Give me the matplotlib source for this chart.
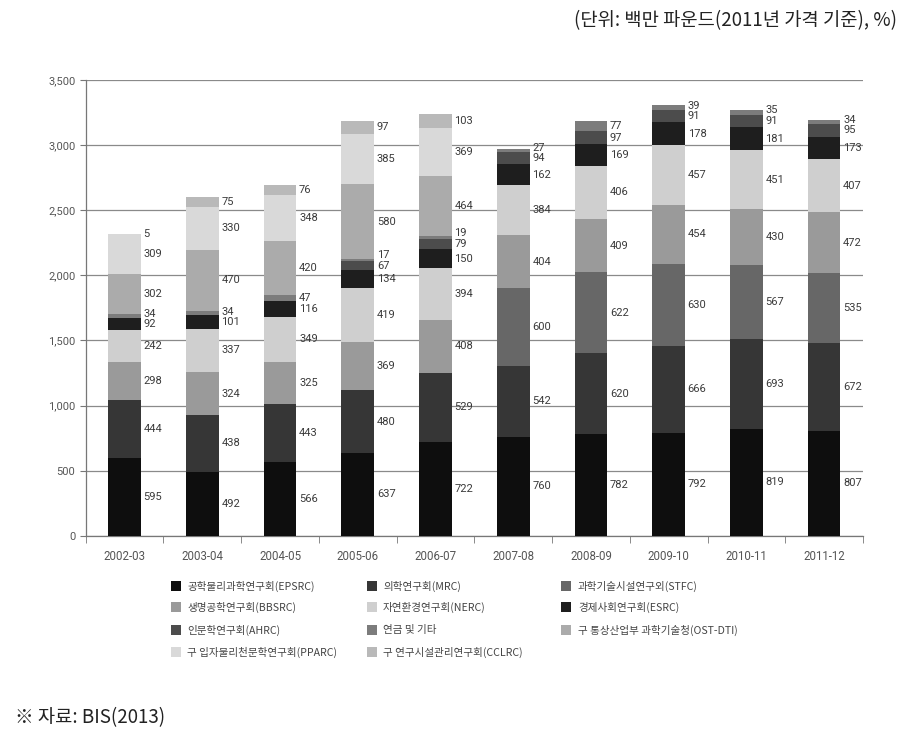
import matplotlib
matplotlib.use('Agg')
import matplotlib.pyplot as plt
from matplotlib.patches import Rectangle
import numpy as np

years = ['2002-03', '2003-04', '2004-05', '2005-06', '2006-07',
         '2007-08', '2008-09', '2009-10', '2010-11', '2011-12']
epsrc = [595, 492, 566, 637, 722, 760, 782, 792, 819, 807]
mrc = [444, 438, 443, 480, 529, 542, 620, 666, 693, 672]
stfc = [0, 0, 0, 0, 0, 600, 622, 630, 567, 535]
bbsrc = [298, 324, 325, 369, 408, 404, 409, 454, 430, 472]
nerc = [242, 337, 349, 419, 394, 384, 406, 457, 451, 407]
esrc = [92, 101, 116, 134, 150, 162, 169, 178, 181, 173]
ahrc = [0, 0, 0, 67, 79, 94, 97, 91, 91, 95]
pension = [34, 34, 47, 17, 19, 27, 77, 39, 35, 34]
ost_dti = [302, 470, 420, 580, 464, 0, 0, 0, 0, 0]
pparc = [309, 330, 348, 385, 369, 0, 0, 0, 0, 0]
cclrc = [5, 75, 76, 97, 103, 0, 0, 0, 0, 0]

series_names = ['공학물리과학연구회(EPSRC)', '의학연구회(MRC)', '과학기술시설연구외(STFC)',
                '생명공학연구회(BBSRC)', '자연환경연구회(NERC)', '경제사회연구회(ESRC)',
                '인문학연구회(AHRC)', '연금 및 기타', '구 통상산업부 과학기술청(OST-DTI)',
                '구 입자물리천문학연구회(PPARC)', '구 연구시설관리연구회(CCLRC)']
series = [epsrc, mrc, stfc, bbsrc, nerc, esrc, ahrc, pension, ost_dti, pparc, cclrc]
colors = ['#0e0e0e', '#363636', '#676767', '#9a9a9a', '#cfcfcf', '#1e1e1e',
          '#4c4c4c', '#7c7c7c', '#ababab', '#d9d9d9', '#b9b9b9']

W, H = 908, 740
fig = plt.figure(figsize=(W / 100, H / 100), dpi=100)
ax = fig.add_axes([85.7 / W, 1 - 535.7 / H, (863 - 85.7) / W, (535.7 - 80) / H])

x = np.arange(len(years))
bw = 0.42
bottom = np.zeros(len(years))
label_info = [[] for _ in years]
for vals, c in zip(series, colors):
    v = np.array(vals, dtype=float)
    ax.bar(x, v, bw, bottom=bottom, color=c, zorder=3, linewidth=0)
    for i in range(len(years)):
        if v[i] > 0:
            label_info[i].append((bottom[i] + v[i] / 2, int(v[i])))
    bottom += v

gap = 80
for i, items in enumerate(label_info):
    prev = -1e9
    for yc, val in items:
        yp = max(yc, prev + gap)
        prev = yp
        ax.text(i + bw / 2 + 0.035, yp, str(val), ha='left', va='center',
                fontsize=8, color='#3a3a3a', family='Roboto', zorder=4)

ax.set_xlim(-0.5, 9.5)
ax.set_ylim(0, 3500)
ax.set_yticks(np.arange(0, 3501, 500))
ax.set_yticklabels([f'{v:,}' for v in range(0, 3501, 500)], family='Roboto',
                   fontsize=8, color='#555555')
ax.set_xticks(x)
ax.set_xticklabels(years, family='Roboto', fontsize=8.3, color='#555555')
ax.set_xticks(np.arange(-0.5, 10, 1), minor=True)
ax.tick_params(axis='x', which='major', length=0, pad=10)
ax.tick_params(axis='x', which='minor', length=5, color='#777777', direction='out')
ax.tick_params(axis='y', length=4, color='#777777', pad=3.5)
ax.yaxis.grid(True, color='#8a8a8a', linewidth=0.9, zorder=0)
ax.set_axisbelow(True)
for s in ['top', 'right']:
    ax.spines[s].set_visible(False)
for s in ['left', 'bottom']:
    ax.spines[s].set_color('#777777')
    ax.spines[s].set_linewidth(0.9)

# legend (row-wise, 3 columns)
col_marker_x = [171, 367, 561]
col_text_x = [187, 383, 578]
row_y = [586, 607, 630, 652]
kfont = ['Noto Sans CJK KR', 'DejaVu Sans']
for k, (name, c) in enumerate(zip(series_names, colors)):
    r, cidx = divmod(k, 3)
    yc = row_y[r]
    fig.add_artist(Rectangle((col_marker_x[cidx] / W, 1 - (yc + 5) / H), 10 / W, 10 / H,
                             transform=fig.transFigure, color=c, linewidth=0))
    fig.text(col_text_x[cidx] / W, 1 - yc / H, name, ha='left', va='center',
             fontsize=7.6, color='#444444', family=kfont)

fig.text(897 / W, 1 - 21 / H, '(단위: 백만 파운드(2011년 가격 기준), %)', ha='right',
         va='center', fontsize=13.5, color='#222222', family=kfont)
fig.text(15 / W, 1 - 718 / H, '※ 자료: BIS(2013)', ha='left', va='center',
         fontsize=13.5, color='#222222', family=kfont)

fig.savefig('out.png', dpi=100, facecolor='white')
